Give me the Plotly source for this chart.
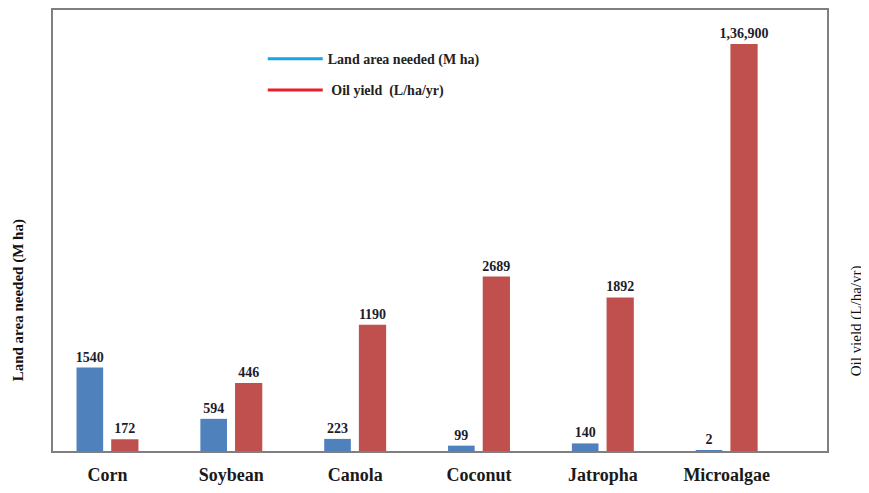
import plotly.graph_objects as go

crops = ["Corn", "Soybean", "Canola", "Coconut", "Jatropha", "Microalgae"]
land_area = [1540, 594, 223, 99, 140, 2]
oil_yield = [172, 446, 1190, 2689, 1892, 136900]
land_labels = ["1540", "594", "223", "99", "140", "2"]
oil_labels = ["172", "446", "1190", "2689", "1892", "1,36,900"]

SERIF = "Liberation Serif, Times New Roman, serif"
BLUE = "#4F81BD"
RED = "#C0504D"
lab_font = dict(family=SERIF, size=14, color="#1c1c2c", weight="bold")

fig = go.Figure()
fig.add_trace(go.Bar(
    x=list(range(len(crops))), y=land_area, yaxis="y",
    width=0.215, offset=-0.25, marker=dict(color=BLUE, line=dict(width=0)),
    text=land_labels, textposition="outside", textfont=lab_font,
    constraintext="none", cliponaxis=False, showlegend=False,
    name="Land area needed (M ha)"))
fig.add_trace(go.Bar(
    x=list(range(len(crops))), y=oil_yield, yaxis="y2",
    width=0.22, offset=0.03, marker=dict(color=RED, line=dict(width=0)),
    text=oil_labels, textposition="outside", textfont=lab_font,
    constraintext="none", cliponaxis=False, showlegend=False,
    name="Oil yield (L/ha/yr)"))

# legend entries (lines)
fig.add_trace(go.Scatter(x=[None], y=[None], mode="lines",
                         line=dict(color="#1AA3E8", width=3),
                         name="Land area needed (M ha)", legendgroup="a"))
fig.add_trace(go.Scatter(x=[None], y=[None], mode="lines",
                         line=dict(color="#E8202A", width=3),
                         name=" Oil yield  (L/ha/yr)", legendgroup="b"))

fig.update_layout(
    width=861, height=485,
    margin=dict(l=45, r=42, t=0, b=42),
    paper_bgcolor="white", plot_bgcolor="white",
    barmode="overlay",
    font=dict(family=SERIF, color="#1a1a1a"),
    xaxis=dict(
        tickmode="array", tickvals=list(range(len(crops))), ticktext=crops,
        range=[-0.44, 5.81], showgrid=False, zeroline=False,
        showline=True, mirror=True, linecolor="#7f7f7f", linewidth=2,
        ticks="", ticklabelstandoff=6,
        tickfont=dict(family=SERIF, size=18, color="#1a1a1a", weight="bold")),
    yaxis=dict(
        range=[0, 8140], showgrid=False, zeroline=False, showticklabels=False,
        showline=True, mirror=True, linecolor="#7f7f7f", linewidth=2, ticks=""),
    yaxis2=dict(
        type="log", range=[2.15, 5.385], overlaying="y", side="right",
        showgrid=False, zeroline=False, showticklabels=False, showline=False,
        ticks=""),
    legend=dict(
        x=0.271, y=0.925, xanchor="left", yanchor="top",
        bgcolor="rgba(0,0,0,0)", itemwidth=55, tracegroupgap=10,
        font=dict(family=SERIF, size=14, color="#222", weight="bold")),
    annotations=[
        dict(text="Land area needed (M ha)", xref="paper", yref="paper",
             x=-0.045, y=0.342, textangle=-90, showarrow=False,
             xanchor="center", yanchor="middle",
             font=dict(family=SERIF, size=15, color="#111", weight="bold")),
        dict(text="Oil yield (L/ha/yr)", xref="paper", yref="paper",
             x=1.038, y=0.295, textangle=-90, showarrow=False,
             xanchor="center", yanchor="middle",
             font=dict(family=SERIF, size=15, color="#111")),
    ],
)

fig.write_html("out.html")
